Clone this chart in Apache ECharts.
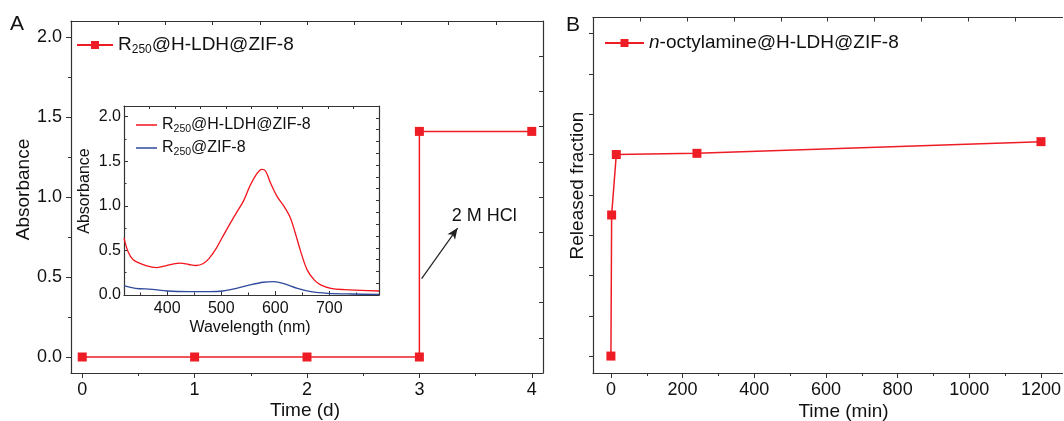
<!DOCTYPE html>
<html>
<head>
<meta charset="utf-8">
<script src="https://cdn.jsdelivr.net/npm/echarts@6/dist/echarts.min.js"></script>
<style>
html,body{margin:0;padding:0;background:#fff;}
#c{width:1064px;height:421px;}
</style>
</head>
<body>
<div id="c"></div>
<script>
// ---- Panel A main data ----
const timeDays = [0, 1, 2, 3, 3, 4];
const absorbanceA = [0, 0, 0, 0, 1.41, 1.41];
const xTicksA = [0, 1, 2, 3, 4];
const yTicksA = [0, 0.5, 1.0, 1.5, 2.0];

// ---- Inset spectra ----
const wlRed = [320,328,337,353,372,381,397,412,424,440,453,466,478,491,503,516,528,541,553,566,575,582,591,603,616,628,637,647,659,672,684,703,728,759,792];
const absRed = [0.639,0.48,0.395,0.346,0.312,0.308,0.327,0.35,0.357,0.342,0.331,0.35,0.414,0.526,0.658,0.797,0.921,1.053,1.222,1.361,1.41,1.391,1.259,1.109,0.996,0.865,0.695,0.489,0.282,0.169,0.113,0.075,0.06,0.053,0.045];
const wlBlue = [320,341,372,400,440,478,503,528,553,578,597,616,641,666,697,741,792];
const absBlue = [0.105,0.075,0.064,0.045,0.038,0.038,0.045,0.075,0.113,0.143,0.15,0.128,0.075,0.038,0.019,0.011,0.008];
const xTicksInset = [400, 500, 600, 700];
const yTicksInset = [0, 0.5, 1.0, 1.5, 2.0];

// ---- Panel B data ----
const timeMin = [0, 2, 15, 240, 1200];
const releasedFraction = [0, 0.35, 0.50, 0.503, 0.532];
const xTicksB = [0, 200, 400, 600, 800, 1000, 1200];
const yTicksB = [0, 0.1, 0.2, 0.3, 0.4, 0.5, 0.6, 0.7, 0.8];

// ---- Annotation (data coordinates of panel A) ----
const arrowFrom = [3.02, 0.49];
const arrowTo = [3.34, 0.806];
const hclLabelAt = [3.577, 0.883];

const FONT = "'Liberation Sans', Arial, Helvetica, sans-serif";
const AX = '#333';
const RED = '#ee1c25';
const RED2 = '#f2141c';
const BLUE = '#2f4a9c';

function range(a, b, s){ const r=[]; for(let v=a; v<=b+1e-9; v+=s) r.push(+v.toFixed(6)); return r; }
function mids(arr){ const r=[]; for(let i=0;i<arr.length-1;i++) r.push((arr[i]+arr[i+1])/2); return r; }

function mainAxis(kind, grid, min, max, ticks, opts){
  return {
    type:'value', gridIndex:grid, min:min, max:max,
    position: opts.position,
    splitLine:{show:false},
    axisLine:{show: opts.line!==false, onZero:false, lineStyle:{color:AX, width:1.2}},
    axisTick:{show:true, inside: !!opts.inside, length: opts.tickLen||5, customValues: ticks, lineStyle:{color:AX, width:1}},
    axisLabel: opts.labels ? {show:true, customValues: opts.labels, margin: opts.margin||8, fontSize: opts.fontSize||18, fontFamily:FONT, color:'#111', formatter: opts.formatter} : {show:false}
  };
}

const xAxes = [
  // grid 0 (panel A)
  mainAxis('x',0,-0.1,4.1,xTicksA,{position:'bottom',labels:xTicksA,margin:8,fontSize:18,formatter:v=>String(v)}),
  mainAxis('x',0,-0.1,4.1,mids(xTicksA),{position:'bottom',line:false,tickLen:3}),
  mainAxis('x',0,0,10,range(1,9,1),{position:'top',inside:true,tickLen:4}),
  // grid 1 (inset)
  mainAxis('x',1,320,792,xTicksInset,{position:'bottom',inside:true,tickLen:4,labels:xTicksInset,margin:6,fontSize:16,formatter:v=>String(v)}),
  mainAxis('x',1,320,792,[350,450,550,650,750],{position:'bottom',inside:true,line:false,tickLen:2.5}),
  mainAxis('x',1,0,10,range(1,9,1),{position:'top',inside:true,tickLen:3}),
  // grid 2 (panel B)
  mainAxis('x',2,-50,1260,xTicksB,{position:'bottom',labels:xTicksB,margin:8,fontSize:18,formatter:v=>String(v)}),
  mainAxis('x',2,-50,1260,mids(xTicksB),{position:'bottom',line:false,tickLen:3}),
  mainAxis('x',2,0,10,range(1,9,1),{position:'top',inside:true,tickLen:4})
];
const yAxes = [
  mainAxis('y',0,-0.1,2.1,yTicksA,{position:'left',labels:yTicksA,margin:9,fontSize:18,formatter:v=>v.toFixed(1)}),
  mainAxis('y',0,-0.1,2.1,mids(yTicksA),{position:'left',line:false,tickLen:3}),
  mainAxis('y',0,0,10,range(1,9,1),{position:'right',inside:true,tickLen:4}),
  mainAxis('y',1,0,2.12,yTicksInset,{position:'left',inside:true,tickLen:4,labels:yTicksInset,margin:3,fontSize:16,formatter:v=>v.toFixed(1)}),
  mainAxis('y',1,0,2.12,mids(yTicksInset),{position:'left',inside:true,line:false,tickLen:2.5}),
  mainAxis('y',1,0,16,range(1,15,1),{position:'right',inside:true,tickLen:3}),
  mainAxis('y',2,-0.042,0.84,yTicksB,{position:'left',tickLen:4}),
];

const richStyles = {
  sub:{fontSize:12, fontFamily:FONT, color:'#111', verticalAlign:'bottom', lineHeight:11},
  it:{fontSize:19, fontFamily:FONT, color:'#111', fontStyle:'italic'}
};
const richStylesSmall = {
  sub:{fontSize:10.5, fontFamily:FONT, color:'#111', verticalAlign:'bottom', lineHeight:9},
};
const legendText = {
  main:'R{sub|250}@H-LDH@ZIF-8',
  insetRed:'R{sub|250}@H-LDH@ZIF-8',
  insetBlue:'R{sub|250}@ZIF-8',
  octyl:'{it|n}-octylamine@H-LDH@ZIF-8'
};

const option = {
  animation:false,
  backgroundColor:'#fff',
  grid:[
    {left:71, top:21, width:472, height:352},
    {left:124, top:106, width:255, height:189},
    {left:593, top:17.5, width:474, height:355.5}
  ],
  xAxis:xAxes,
  yAxis:yAxes,
  legend:[
    {data:['main'], left:76, top:34, padding:0, itemWidth:36, itemHeight:10, itemGap:10,
     formatter:n=>legendText[n], textStyle:{fontSize:19, fontFamily:FONT, color:'#111', lineHeight:22, rich:richStyles}},
    {data:[{name:'insetRed', icon:'rect'},{name:'insetBlue', icon:'rect'}], orient:'vertical', left:136, top:115, padding:0,
     itemWidth:21, itemHeight:1.5, itemGap:3,
     formatter:n=>legendText[n], textStyle:{fontSize:16, fontFamily:FONT, color:'#111', lineHeight:20, rich:richStylesSmall}},
    {data:['octyl'], left:604, top:32, padding:0, itemWidth:39, itemHeight:10,
     formatter:n=>legendText[n], textStyle:{fontSize:19, fontFamily:FONT, color:'#111', lineHeight:22, rich:richStyles}}
  ],
  series:[
    {name:'main', type:'line', xAxisIndex:0, yAxisIndex:0,
     data: timeDays.map((t,i)=>[t, absorbanceA[i]]),
     symbol:'rect', symbolSize:9, color:RED, lineStyle:{width:1.5, color:RED}, itemStyle:{color:RED},
     markLine:{silent:true, symbol:['none','arrow'], symbolSize:[7,11], label:{show:false},
       lineStyle:{color:'#222', width:1.2, type:'solid'},
       data:[[{coord:arrowFrom},{coord:arrowTo}]]},
     markPoint:{silent:true, symbol:'circle', symbolSize:0,
       label:{show:true, position:'inside', formatter:'2 M HCl', fontSize:18, fontFamily:FONT, color:'#111'},
       data:[{coord:hclLabelAt}]}
    },
    {name:'insetRed', type:'line', xAxisIndex:3, yAxisIndex:3,
     data: wlRed.map((w,i)=>[w, absRed[i]]), smooth:0.35, symbol:'none',
     color:RED2, lineStyle:{width:1.3, color:RED2}},
    {name:'insetBlue', type:'line', xAxisIndex:3, yAxisIndex:3,
     data: wlBlue.map((w,i)=>[w, absBlue[i]]), smooth:0.35, symbol:'none',
     color:BLUE, lineStyle:{width:1.3, color:BLUE}},
    {name:'octyl', type:'line', xAxisIndex:6, yAxisIndex:6,
     data: timeMin.map((t,i)=>[t, releasedFraction[i]]),
     symbol:'rect', symbolSize:9, color:RED, lineStyle:{width:1.5, color:RED}, itemStyle:{color:RED}}
  ],
  graphic:[
    {type:'text', left:10, top:14, style:{text:'A', fontSize:21, fontFamily:FONT, fill:'#111'}},
    {type:'text', left:566, top:15, style:{text:'B', fontSize:21, fontFamily:FONT, fill:'#111'}},
    {type:'text', x:24, y:189.5, rotation:Math.PI/2, style:{text:'Absorbance', fontSize:19, fontFamily:FONT, fill:'#111', align:'center', verticalAlign:'middle'}},
    {type:'text', x:305, y:411, style:{text:'Time (d)', fontSize:19, fontFamily:FONT, fill:'#111', align:'center', verticalAlign:'middle'}},
    {type:'text', x:85, y:191, rotation:Math.PI/2, style:{text:'Absorbance', fontSize:16, fontFamily:FONT, fill:'#111', align:'center', verticalAlign:'middle'}},
    {type:'text', x:250, y:327.5, style:{text:'Wavelength (nm)', fontSize:16, fontFamily:FONT, fill:'#111', align:'center', verticalAlign:'middle'}},
    {type:'text', x:577.5, y:185.5, rotation:Math.PI/2, style:{text:'Released fraction', fontSize:19, fontFamily:FONT, fill:'#111', align:'center', verticalAlign:'middle'}},
    {type:'text', x:843.5, y:411.5, style:{text:'Time (min)', fontSize:19, fontFamily:FONT, fill:'#111', align:'center', verticalAlign:'middle'}}
  ]
};

const chart = echarts.init(document.getElementById('c'), null, {renderer:'canvas'});
chart.setOption(option);
</script>
</body>
</html>
